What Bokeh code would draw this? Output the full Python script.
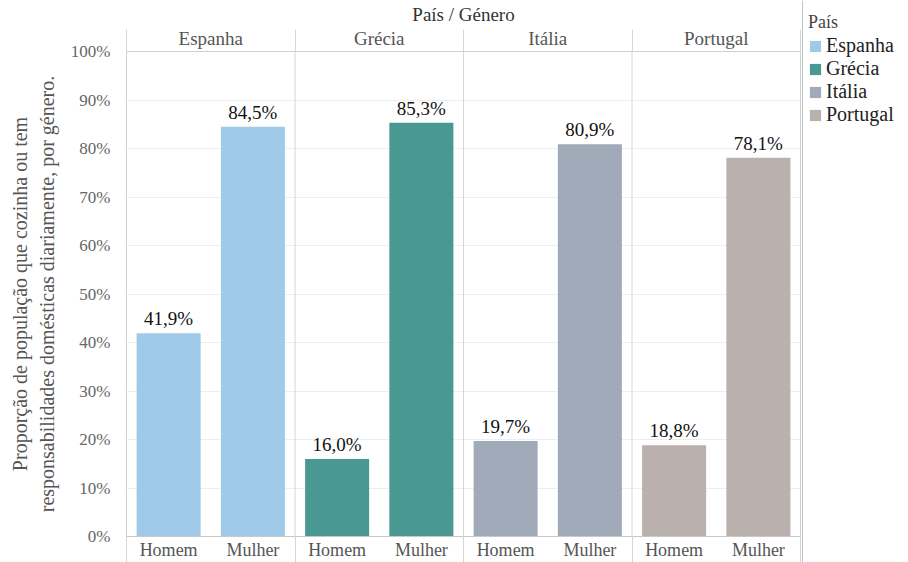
from bokeh.plotting import figure
from bokeh.layouts import row
from bokeh.models import (Range1d, LinearAxis, FixedTicker, Span,
                          PrintfTickFormatter, Legend, LegendItem,
                          ColumnDataSource, LabelSet)
from bokeh.embed import file_html
from bokeh.resources import INLINE

# ---- data ----
countries = ["Espanha", "Grécia", "Itália", "Portugal"]
genders = ["Homem", "Mulher"]
homem = [41.9, 16.0, 19.7, 18.8]
mulher = [84.5, 85.3, 80.9, 78.1]
colors = ["#A0CBE8", "#499894", "#A0AAB9", "#BAB0AC"]
y_ticks = [0, 10, 20, 30, 40, 50, 60, 70, 80, 90, 100]

FONT = "Liberation Serif"
H = 562
LEFT, RIGHT, TOP, BOTTOM = 126, 2, 50, 26
MAIN_W = 802
LEG_W = 908 - MAIN_W
SEP = "#d6d6d6"

nC, nG = len(countries), len(genders)
centers = [i * nG + j + 0.5 for i in range(nC) for j in range(nG)]
center_labels = [g for _ in countries for g in genders]
bounds = [i * nG for i in range(nC + 1)]

p = figure(width=MAIN_W, height=H,
           x_range=Range1d(0, nC * nG), y_range=Range1d(0, 100),
           output_backend="svg", toolbar_location=None,
           min_border_left=LEFT, min_border_right=RIGHT,
           min_border_top=TOP, min_border_bottom=BOTTOM)
p.extra_x_ranges = {"countries": Range1d(0, nC)}

p.outline_line_color = "#d0d0d0"
p.background_fill_color = "white"
p.border_fill_color = "white"

# grid
p.xgrid.grid_line_color = None
p.ygrid.ticker = FixedTicker(ticks=y_ticks)
p.ygrid.grid_line_color = "#eeeeee"

# y axis
p.yaxis.ticker = FixedTicker(ticks=y_ticks)
p.yaxis.formatter = PrintfTickFormatter(format="%d%%")
p.yaxis.major_tick_line_color = None
p.yaxis.minor_tick_line_color = None
p.yaxis.axis_line_color = None
p.yaxis.major_label_standoff = 10
p.yaxis.major_label_text_font = FONT
p.yaxis.major_label_text_font_size = "17px"
p.yaxis.major_label_text_color = "#666666"
p.yaxis.axis_label = ("Proporção de população que cozinha ou tem\n"
                      "responsabilidades domésticas diariamente, por género.")
p.yaxis.axis_label_text_font = FONT
p.yaxis.axis_label_text_font_style = "normal"
p.yaxis.axis_label_text_font_size = "20px"
p.yaxis.axis_label_text_color = "#555555"
p.yaxis.axis_label_standoff = 10

# bottom x axis (gender), minor ticks draw the panel separators
xa = p.xaxis[0]
xa.ticker = FixedTicker(ticks=centers, minor_ticks=bounds)
xa.major_label_overrides = {c: lbl for c, lbl in zip(centers, center_labels)}
xa.major_tick_line_color = None
xa.minor_tick_line_color = SEP
xa.minor_tick_in = 0
xa.minor_tick_out = BOTTOM
xa.axis_line_color = "#c8c8c8"
xa.major_label_standoff = 3 - BOTTOM
xa.major_label_text_font = FONT
xa.major_label_text_font_size = "18px"
xa.major_label_text_color = "#555555"

# top axis (country)
c_centers = [i + 0.5 for i in range(nC)]
top_axis = LinearAxis(x_range_name="countries",
                      ticker=FixedTicker(ticks=c_centers, minor_ticks=list(range(nC + 1))))
top_axis.major_label_overrides = {c: n for c, n in zip(c_centers, countries)}
top_axis.major_tick_line_color = None
top_axis.minor_tick_line_color = SEP
top_axis.minor_tick_in = 0
top_axis.minor_tick_out = TOP - 28
top_axis.axis_line_color = None
top_axis.major_label_standoff = 3 - (TOP - 28)
top_axis.major_label_text_font = FONT
top_axis.major_label_text_font_size = "19px"
top_axis.major_label_text_color = "#555555"
top_axis.axis_label = "País / Género"
top_axis.axis_label_text_font = FONT
top_axis.axis_label_text_font_style = "normal"
top_axis.axis_label_text_font_size = "19px"
top_axis.axis_label_text_color = "#333333"
top_axis.axis_label_standoff = 0
p.add_layout(top_axis, "above")

# panel separators inside plot area
for b in bounds[1:-1]:
    p.add_layout(Span(location=b, dimension="height", line_color=SEP, line_width=1))

# bars
for i, c in enumerate(countries):
    vals = [homem[i], mulher[i]]
    src = ColumnDataSource(dict(
        x=[i * nG + j + 0.5 for j in range(nG)],
        v=vals,
        lbl=[f"{v:.1f}%".replace(".", ",") for v in vals],
    ))
    p.vbar(x="x", top="v", width=0.76, source=src,
           fill_color=colors[i], line_color=None)
    p.add_layout(LabelSet(x="x", y="v", text="lbl", source=src,
                          text_align="center", text_baseline="bottom",
                          y_offset=4, text_font=FONT, text_font_size="19px",
                          text_color="#111111"))

# legend panel (separate figure so that it is not clipped)
q = figure(width=LEG_W, height=H, x_range=Range1d(0, 1), y_range=Range1d(0, 1),
           output_backend="svg", toolbar_location=None, min_border=0)
if "frame_align" in q.properties():
    q.frame_align = False
q.axis.visible = False
q.grid.visible = False
q.outline_line_color = None
items = []
for i, c in enumerate(countries):
    # swatch renderer, kept outside the visible range of the legend panel
    r = q.vbar(x=[-5], top=[1], width=0.5, fill_color=colors[i], line_color=None)
    items.append(LegendItem(label=c, renderers=[r]))

legend = Legend(items=items, location=(6, H - 126))
legend.title = "País"
legend.title_text_font = FONT
legend.title_text_font_style = "normal"
legend.title_text_font_size = "18px"
legend.title_text_color = "#444444"
legend.title_standoff = 1
legend.label_text_font = FONT
legend.label_text_font_size = "20px"
legend.label_text_color = "#222222"
legend.glyph_width = 14
legend.glyph_height = 14
legend.label_standoff = 4
legend.spacing = 0
legend.padding = 0
legend.margin = 0
legend.border_line_color = None
legend.background_fill_alpha = 0
q.add_layout(legend)

layout = row(p, q, spacing=0)
open("out.html", "w").write(file_html(layout, INLINE))
